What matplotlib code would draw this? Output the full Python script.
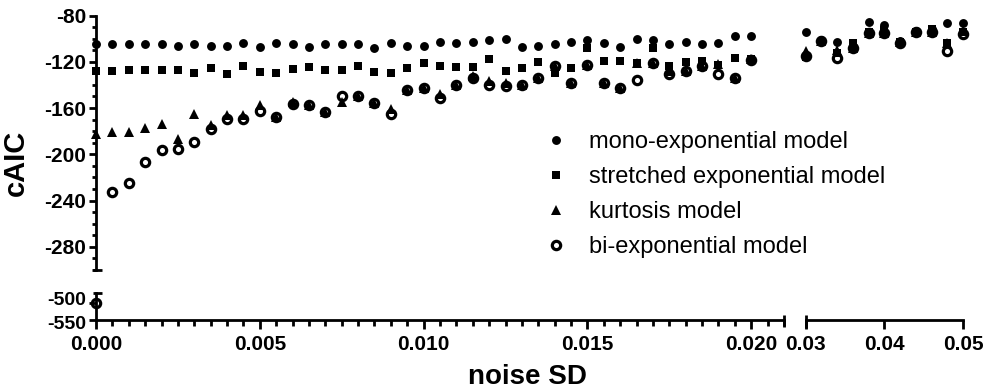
import matplotlib
matplotlib.use("Agg")
import matplotlib.pyplot as plt
import matplotlib.transforms as mtransforms
import numpy as np

plt.rcParams['font.family'] = ['Liberation Sans', 'DejaVu Sans']
plt.rcParams['axes.unicode_minus'] = False

# --- data ---
noise_low = np.round(np.arange(0, 0.02001, 0.0005), 4)          # 0.000 ... 0.020
noise_high = [0.030, 0.032, 0.034, 0.036, 0.038, 0.040, 0.042, 0.044, 0.046, 0.048, 0.050]

mono_low = [-105, -105, -105, -105, -105, -106, -105, -106, -106, -104,
            -107, -104, -105, -107, -105, -105, -105, -108, -104, -106,
            -106, -102.5, -104, -102.5, -101.5, -100.5, -107, -106, -105, -102.5,
            -101.5, -103.5, -107, -100.5, -101, -105, -102.5, -104.5, -103.5, -97.5,
            -98]
stretched_low = [-128, -128, -127.5, -127.5, -127.5, -127.5, -129.5, -125.3, -131, -124,
                 -129, -130, -126, -124.3, -126.8, -127, -124, -129.2, -129.4, -125.6,
                 -120.8, -124, -124.8, -124.8, -117.6, -127.6, -125.3, -120.5, -129.6, -125.3,
                 -108.2, -119.4, -119.7, -121, -108.2, -124, -120.5, -119.7, -122.5, -116.7,
                 -118]
kurtosis_low = [-182.6, -181, -181, -177.5, -173.5, -186.5, -164.8, -174.5, -166, -166,
                -157.5, -167.5, -155, -157, -163.3, -155, -150, -155.7, -161, -144.6,
                -142.7, -148, -139.7, -132, -137, -138, -140.5, -133.7, -124, -138.2,
                -122.5, -138, -142.8, -121, -121, -128, -128.2, -124, -122, -134,
                -118]
biexp_low = [-500, -233, -224.5, -206.5, -196, -195.5, -189.7, -178.3, -169.7, -169.7,
             -162.3, -167.5, -156.5, -157, -163.3, -149.7, -150, -155.7, -165.4, -144.6,
             -142.7, -151.5, -139.7, -133.9, -139.7, -141.3, -140.5, -133.7, -124, -138.2,
             -122.5, -138, -142.8, -135.4, -121, -131, -128.2, -124, -131, -134,
             -118.2]

mono_high = [-94, -101, -103, -106, -86, -88, -102, -93, -92, -86.5, -86.5]
stretched_high = [-116, -103, -112, -104, -94, -92.5, -103, -94, -92, -104, -94]
kurtosis_high = [-111, -102, -110, -108, -95, -95, -103, -94, -94, -104, -93]
biexp_high = [-115, -102, -117, -108, -95, -95, -104, -94, -94, -111, -96]

labels = ['mono-exponential model', 'stretched exponential model',
          'kurtosis model', 'bi-exponential model']

styles = [
    dict(marker='o', ms=6.4, mfc='k', mec='k', mew=0),
    dict(marker='s', ms=6.4, mfc='k', mec='k', mew=0),
    dict(marker='^', ms=7.4, mfc='k', mec='k', mew=0),
    dict(marker='o', ms=6.0, mfc='none', mec='k', mew=2.3),
]

W, H = 991, 390
def fx(px):
    return px / W
def fy(py):
    return 1 - py / H

fig = plt.figure(figsize=(9.91, 3.90), dpi=100)

x0, x1 = 96, 784
xr0, xr1 = 805.7, 963
yt0, yt1 = 15.5, 270
yb0, yb1 = 293, 319.5

ax_tl = fig.add_axes([fx(x0), fy(yt1), fx(x1) - fx(x0), fy(yt0) - fy(yt1)])
ax_tr = fig.add_axes([fx(xr0), fy(yt1), fx(xr1) - fx(xr0), fy(yt0) - fy(yt1)])
ax_bl = fig.add_axes([fx(x0), fy(yb1), fx(x1) - fx(x0), fy(yb0) - fy(yb1)])
ax_br = fig.add_axes([fx(xr0), fy(yb1), fx(xr1) - fx(xr0), fy(yb0) - fy(yb1)])

top_lim = (-300, -80)
bot_lim = (-550, -470)

series_low = [mono_low, stretched_low, kurtosis_low, biexp_low]
series_high = [mono_high, stretched_high, kurtosis_high, biexp_high]

handles = []
for vals_l, vals_h, st, lab in zip(series_low, series_high, styles, labels):
    vl = np.array(vals_l, dtype=float)
    vh = np.array(vals_h, dtype=float)
    m_top = vl >= top_lim[0]
    m_bot = vl <= bot_lim[1]
    h, = ax_tl.plot(noise_low[m_top], vl[m_top], ls='none', clip_on=False, label=lab, **st)
    ax_bl.plot(noise_low[m_bot], vl[m_bot], ls='none', clip_on=False, **st)
    ax_tr.plot(np.array(noise_high), vh, ls='none', clip_on=False, **st)
    handles.append(h)

for ax in (ax_tl, ax_tr):
    ax.set_ylim(*top_lim)
for ax in (ax_bl, ax_br):
    ax.set_ylim(*bot_lim)
for ax in (ax_tl, ax_bl):
    ax.set_xlim(0, 0.021)
for ax in (ax_tr, ax_br):
    ax.set_xlim(0.03, 0.05)

for ax in (ax_tl, ax_tr, ax_bl, ax_br):
    ax.patch.set_visible(False)
    for s in ax.spines.values():
        s.set_visible(False)
        s.set_linewidth(2)

# y axes
ax_tl.spines['left'].set_visible(True)
ax_bl.spines['left'].set_visible(True)
ax_bl.spines['bottom'].set_visible(True)
ax_br.spines['bottom'].set_visible(True)

ax_tl.set_yticks(np.arange(-280, -79, 40))
ax_tl.set_yticks(np.arange(-300, -79, 10), minor=True)
ax_tl.set_xticks([])
ax_tr.set_xticks([])
ax_tr.set_yticks([])

ax_bl.set_yticks([-550, -500])
ax_bl.set_xticks(np.arange(0, 0.0201, 0.005))
ax_bl.set_xticks(np.arange(0, 0.0211, 0.0005), minor=True)
ax_bl.set_xticklabels(['0.000', '0.005', '0.010', '0.015', '0.020'])
ax_br.set_yticks([])
ax_br.set_xticks([0.03, 0.04, 0.05])
ax_br.set_xticklabels(['0.03', '0.04', '0.05'])

for ax in (ax_tl, ax_bl, ax_br):
    ax.tick_params(axis='y', which='major', direction='out', length=5, width=2,
                   labelsize=15, pad=2)
    ax.tick_params(axis='y', which='minor', direction='out', length=3, width=2)
    ax.tick_params(axis='x', which='major', direction='out', length=6.5, width=2,
                   labelsize=15, pad=5)
    ax.tick_params(axis='x', which='minor', direction='out', length=4.3, width=2)
    for lab in ax.get_xticklabels() + ax.get_yticklabels():
        lab.set_fontweight('bold')

# the two labels of the short lower segment sit tight together; nudge them apart
ax_bl.tick_params(axis='y', which='major', labelsize=14)
ylabs = ax_bl.get_yticklabels()
ylabs[0].set_transform(ylabs[0].get_transform() +
                       mtransforms.ScaledTranslation(0, -2.5 / 72, fig.dpi_scale_trans))
ylabs[1].set_transform(ylabs[1].get_transform() +
                       mtransforms.ScaledTranslation(0, 3 / 72, fig.dpi_scale_trans))

# axis break caps
cap = dict(color='k', lw=2, solid_capstyle='butt', clip_on=False)
ax_tl.plot([-0.004, 0.008], [-300, -300], transform=ax_tl.get_yaxis_transform(), **cap)
ax_bl.plot([-0.004, 0.008], [-470, -470], transform=ax_bl.get_yaxis_transform(), **cap)
ax_bl.plot([0.021, 0.021], [0.16, -0.27], transform=ax_bl.get_xaxis_transform(), **cap)
ax_br.plot([0.03, 0.03], [0.17, -0.33], transform=ax_br.get_xaxis_transform(), **cap)

fig.text(fx(15.5), fy(163), 'cAIC', rotation=90, fontsize=21, fontweight='bold',
         ha='center', va='center')
fig.text(fx(527.5), fy(377), 'noise SD', fontsize=20, fontweight='bold',
         ha='center', va='center')

fig.legend(handles=handles, labels=labels, loc='upper left',
           bbox_to_anchor=(fx(544.2), fy(131)), frameon=False, fontsize=17,
           numpoints=1, handlelength=1.0, handletextpad=0.88, labelspacing=0.55,
           borderpad=0, borderaxespad=0)

fig.savefig('out.png', dpi=100)
